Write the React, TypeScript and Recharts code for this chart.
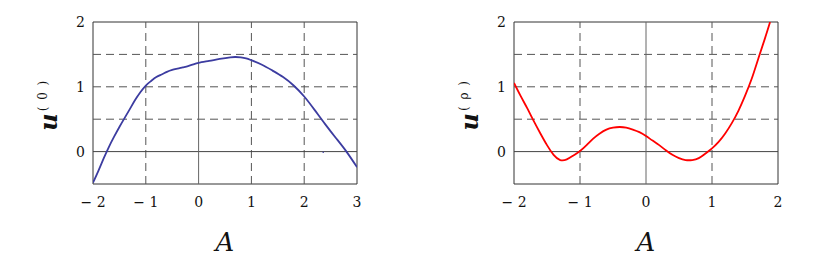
import { LineChart, Line, XAxis, YAxis, ReferenceLine, ReferenceArea, ReferenceDot, Label } from "recharts";

const leftA = [-2, -1.9, -1.8, -1.7, -1.6, -1.5, -1.4, -1.3, -1.2, -1.1, -1.0, -0.9, -0.8, -0.7, -0.6, -0.5, -0.4, -0.3, -0.2, -0.1, 0, 0.2, 0.4, 0.6, 0.7, 0.8, 0.9, 1.0, 1.2, 1.4, 1.6, 1.8, 2.0, 2.2, 2.4, 2.6, 2.8, 3.0];
const leftU = [-0.48, -0.3, -0.11, 0.07, 0.23, 0.38, 0.52, 0.66, 0.8, 0.92, 1.02, 1.09, 1.15, 1.19, 1.23, 1.26, 1.28, 1.3, 1.32, 1.345, 1.37, 1.4, 1.43, 1.455, 1.46, 1.455, 1.44, 1.41, 1.34, 1.25, 1.15, 1.02, 0.85, 0.64, 0.42, 0.21, 0.0, -0.24];

const rightA = [-2, -1.9, -1.8, -1.7, -1.6, -1.5, -1.4, -1.3, -1.2, -1.1, -1.0, -0.9, -0.8, -0.7, -0.6, -0.5, -0.4, -0.3, -0.2, -0.1, 0, 0.1, 0.2, 0.3, 0.4, 0.5, 0.6, 0.7, 0.8, 0.9, 1.0, 1.1, 1.2, 1.3, 1.4, 1.5, 1.6, 1.7, 1.8, 1.88];
const rightU = [1.06, 0.86, 0.67, 0.47, 0.28, 0.1, -0.05, -0.13, -0.12, -0.06, 0.01, 0.1, 0.2, 0.28, 0.34, 0.37, 0.38, 0.37, 0.34, 0.3, 0.24, 0.17, 0.1, 0.02, -0.05, -0.1, -0.13, -0.13, -0.1, -0.03, 0.05, 0.15, 0.28, 0.44, 0.63, 0.86, 1.12, 1.43, 1.74, 2.0];

const leftXTicks = [-2, -1, 0, 1, 2, 3];
const rightXTicks = [-2, -1, 0, 1, 2];
const yTicks = [0, 1, 2];
const yGrid = [0.5, 1, 1.5];
const leftXGrid = [-1, 1, 2];
const rightXGrid = [-1, 1];

const serif = "DejaVu Serif";
const fmt = (v: number) => (v < 0 ? `− ${-v}` : `${v}`);

function Panel({
  xs,
  ys,
  xDomain,
  xTicks,
  xGrid,
  color,
  sup,
  yAxisWidth,
  width,
  plotRight,
  labelX,
  dot,
}: {
  xs: number[];
  ys: number[];
  xDomain: [number, number];
  xTicks: number[];
  xGrid: number[];
  color: string;
  sup: string;
  yAxisWidth: number;
  width: number;
  plotRight: number;
  labelX: number;
  dot?: [number, number];
}) {
  const data = xs.map((x, i) => ({ x, y: ys[i] }));
  const tickStyle = { fontFamily: serif, fontSize: 14, fill: "#111" };
  return (
    <LineChart width={width} height={268} data={data} margin={{ top: 22, right: width - plotRight, left: 0, bottom: 0 }}>
      <XAxis
        dataKey="x"
        type="number"
        domain={xDomain}
        ticks={xTicks}
        allowDataOverflow
        axisLine={false}
        tickLine={false}
        tickSize={0}
        tickMargin={13}
        height={84}
        tick={tickStyle}
        tickFormatter={fmt}
      >
        <Label
          content={({ viewBox }: any) => (
            <text
              x={viewBox.x + viewBox.width / 2}
              y={viewBox.y + 67}
              textAnchor="middle"
              fontFamily={serif}
              fontStyle="italic"
              fontSize={26}
              fill="#111"
            >
              A
            </text>
          )}
        />
      </XAxis>
      <YAxis
        type="number"
        domain={[-0.5, 2]}
        ticks={yTicks}
        allowDataOverflow
        axisLine={false}
        tickLine={false}
        tickSize={0}
        tickMargin={8}
        width={yAxisWidth}
        tick={tickStyle}
      >
        <Label
          content={() => (
            <text
              x={labelX}
              y={105}
              transform={`rotate(-90, ${labelX}, 105)`}
              textAnchor="middle"
              fontFamily={serif}
              fill="#111"
            >
              <tspan fontSize={24} fontWeight="bold" fontStyle="italic">u</tspan>
              <tspan fontSize={12} letterSpacing={1.5} dy={-10} dx={2}>
                {sup}
              </tspan>
            </text>
          )}
        />
      </YAxis>
      {yGrid.map((v) => (
        <ReferenceLine key={`h${v}`} y={v} stroke="#555" strokeDasharray="8 5" />
      ))}
      {xGrid.map((v) => (
        <ReferenceLine key={`v${v}`} x={v} stroke="#555" strokeDasharray="8 5" />
      ))}
      <ReferenceLine y={0} stroke="#444" />
      <ReferenceLine x={0} stroke="#666" />
      <ReferenceArea x1={xDomain[0]} x2={xDomain[1]} y1={-0.5} y2={2} fill="none" stroke="#333" />
      {dot && <ReferenceDot x={dot[0]} y={dot[1]} r={0.8} fill={color} stroke="none" />}
      <Line type="natural" dataKey="y" stroke={color} strokeWidth={1.8} dot={false} isAnimationActive={false} />
    </LineChart>
  );
}

export default function App() {
  return (
    <div style={{ position: "absolute", left: 0, top: 0, width: 817, height: 268, background: "#fff" }}>
      <div style={{ position: "absolute", left: 0, top: 0 }}>
        <Panel
          xs={leftA}
          ys={leftU}
          xDomain={[-2, 3]}
          xTicks={leftXTicks}
          xGrid={leftXGrid}
          color="#3c3ca0"
          sup="( 0 )"
          yAxisWidth={93}
          width={410}
          plotRight={357}
          labelX={57}
          dot={[2.36, -0.01]}
        />
      </div>
      <div style={{ position: "absolute", left: 410, top: 0 }}>
        <Panel
          xs={rightA}
          ys={rightU}
          xDomain={[-2, 2]}
          xTicks={rightXTicks}
          xGrid={rightXGrid}
          color="#ff0000"
          sup="( ρ )"
          yAxisWidth={104}
          width={407}
          plotRight={368}
          labelX={68}
        />
      </div>
    </div>
  );
}
